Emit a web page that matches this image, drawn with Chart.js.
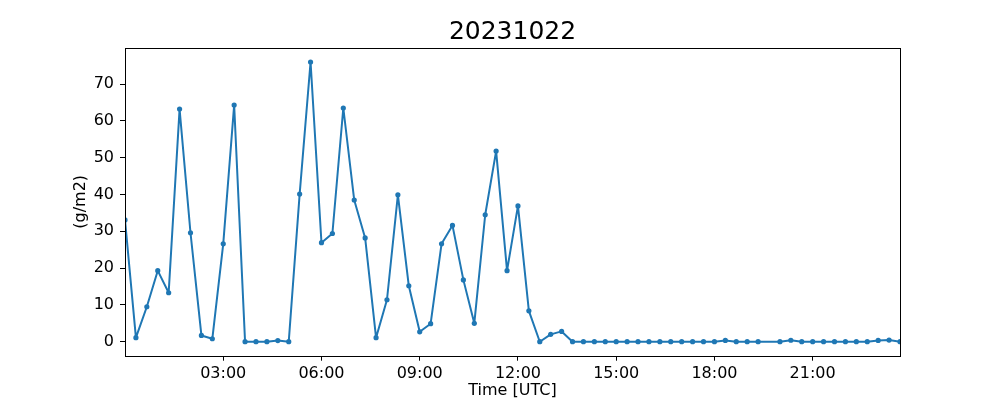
<!DOCTYPE html>
<html>
<head>
<meta charset="utf-8">
<script src="https://cdn.jsdelivr.net/npm/chart.js@4"></script>
<style>
  html, body { margin: 0; padding: 0; background: #fff; }
  #wrap { width: 1000px; height: 400px; }
</style>
</head>
<body>
<div id="wrap"><canvas id="c" width="1000" height="400"></canvas></div>
<script>
const chartTitle = "20231022";
const xLabel = "Time [UTC]";
const yLabel = "(g/m2)";

const times = [
  "00:00","00:20","00:40","01:00","01:20","01:40","02:00","02:20","02:40",
  "03:00","03:20","03:40","04:00","04:20","04:40","05:00","05:20","05:40",
  "06:00","06:20","06:40","07:00","07:20","07:40","08:00","08:20","08:40",
  "09:00","09:20","09:40","10:00","10:20","10:40","11:00","11:20","11:40",
  "12:00","12:20","12:40","13:00","13:20","13:40","14:00","14:20","14:40",
  "15:00","15:20","15:40","16:00","16:20","16:40","17:00","17:20","17:40",
  "18:00","18:20","18:40","19:00","19:20","20:00","20:20","20:40",
  "21:00","21:20","21:40","22:00","22:20","22:40","23:00","23:20","23:40"
];
const values = [
  33.1, 1.1, 9.5, 19.3, 13.3, 63.2, 29.6, 1.7, 0.8,
  26.6, 64.3, 0.0, 0.0, 0.0, 0.3, 0.0, 40.1, 76.0,
  26.9, 29.4, 63.5, 38.5, 28.2, 1.1, 11.4, 39.9, 15.2,
  2.7, 4.9, 26.6, 31.6, 16.8, 5.0, 34.5, 51.8, 19.3,
  36.9, 8.4, 0.0, 2.0, 2.8, 0.0, 0.0, 0.0, 0.0,
  0.0, 0.0, 0.0, 0.0, 0.0, 0.0, 0.0, 0.0, 0.0,
  0.0, 0.35, 0.0, 0.0, 0.0, 0.0, 0.4, 0.0,
  0.0, 0.0, 0.0, 0.0, 0.0, 0.0, 0.35, 0.45, 0.0
];
const xTickHours = [3, 6, 9, 12, 15, 18, 21];
const yTickValues = [0, 10, 20, 30, 40, 50, 60, 70];

function toHours(t) {
  const [h, m] = t.split(":").map(Number);
  return h + m / 60;
}
const points = times.map((t, i) => ({ x: toHours(t), y: values[i] }));
const xs = points.map(p => p.x);
const vMin = Math.min(...values), vMax = Math.max(...values);
const margin = (vMax - vMin) * 0.05;

const FONT = "'DejaVu Sans', sans-serif";

const framePlugin = {
  id: 'frame',
  afterDraw(chart) {
    const { ctx, chartArea: a } = chart;
    ctx.save();
    ctx.strokeStyle = '#000';
    ctx.lineWidth = 1;
    ctx.strokeRect(Math.round(a.left) + 0.5, Math.round(a.top) + 0.5,
                   Math.round(a.right - a.left), Math.round(a.bottom - a.top));
    ctx.fillStyle = '#000';
    ctx.font = "25px " + FONT;
    ctx.textAlign = 'center';
    ctx.textBaseline = 'alphabetic';
    ctx.fillText(chartTitle, (a.left + a.right) / 2, 39.3);
    ctx.restore();
  }
};

new Chart(document.getElementById('c'), {
  type: 'line',
  data: {
    datasets: [{
      data: points,
      borderColor: '#1f77b4',
      backgroundColor: '#1f77b4',
      borderWidth: 2,
      borderJoinStyle: 'round',
      borderCapStyle: 'butt',
      pointRadius: 2.6,
      pointBorderWidth: 0,
      pointHoverRadius: 2.6,
      tension: 0,
      fill: false,
      clip: 0
    }]
  },
  options: {
    responsive: false,
    animation: false,
    events: [],
    layout: { padding: { left: 0, right: 100, top: 48, bottom: 0 } },
    plugins: { legend: { display: false }, tooltip: { enabled: false }, title: { display: false } },
    scales: {
      x: {
        type: 'linear',
        min: Math.min(...xs),
        max: Math.max(...xs),
        afterFit(s) { s.height = 44.3; },
        afterBuildTicks(s) { s.ticks = xTickHours.map(v => ({ value: v })); },
        border: { display: false },
        grid: { display: true, drawOnChartArea: false, drawTicks: true, tickLength: 5, color: '#000', lineWidth: 1 },
        ticks: {
          color: '#000', font: { family: FONT, size: 16 }, padding: 4,
          maxRotation: 0, autoSkip: false,
          callback: v => String(Math.floor(v)).padStart(2, '0') + ':00'
        },
        title: { display: true, text: xLabel, color: '#000', font: { family: FONT, size: 16 }, padding: { top: 0, bottom: 0 } }
      },
      y: {
        type: 'linear',
        min: vMin - margin,
        max: vMax + margin,
        afterFit(s) { s.width = 125; },
        afterBuildTicks(s) { s.ticks = yTickValues.map(v => ({ value: v })); },
        border: { display: false },
        grid: { display: true, drawOnChartArea: false, drawTicks: true, tickLength: 5, color: '#000', lineWidth: 1 },
        ticks: { color: '#000', font: { family: FONT, size: 16 }, padding: 6 },
        title: { display: true, text: yLabel, color: '#000', font: { family: FONT, size: 16 }, padding: { top: 71, bottom: 0 } }
      }
    }
  },
  plugins: [framePlugin]
});
</script>
</body>
</html>
